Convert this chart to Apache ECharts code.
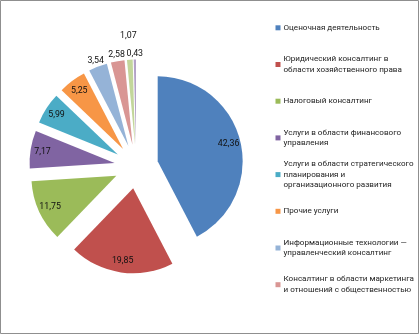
<!DOCTYPE html>
<html>
<head>
<meta charset="utf-8">
<script src="https://cdn.jsdelivr.net/npm/echarts@6/dist/echarts.min.js"></script>
<style>
  html, body { margin: 0; padding: 0; background: #fff; }
  #chart { width: 419px; height: 334px; }
</style>
</head>
<body>
<div id="chart"></div>
<script>
// Consulting market structure, % of revenue by service line
const categories = [
  'Оценочная деятельность',
  'Юридический консалтинг в области хозяйственного права',
  'Налоговый консалтинг',
  'Услуги в области финансового управления',
  'Услуги в области стратегического планирования и организационного развития',
  'Прочие услуги',
  'Информационные технологии — управленческий консалтинг',
  'Консалтинг в области маркетинга и отношений с общественностью',
  'Консалтинг в области управления персоналом',
  'Производственный консалтинг'
];
const shares = [42.36, 19.85, 11.75, 7.17, 5.99, 5.25, 3.54, 2.58, 1.07, 0.43];

// Legend captions with their line breaks
const legendText = [
  'Оценочная деятельность',
  'Юридический консалтинг в\nобласти хозяйственного права',
  'Налоговый консалтинг',
  'Услуги в области финансового\nуправления',
  'Услуги в области стратегического\nпланирования и\nорганизационного развития',
  'Прочие услуги',
  'Информационные технологии —\nуправленческий консалтинг',
  'Консалтинг в области маркетинга\nи отношений с общественностью'
];

const colors = ['#4F81BD', '#C0504D', '#9BBB59', '#8064A2', '#4BACC6', '#F79646',
                '#95B3D7', '#D99694', '#C3D69B', '#B3A2C7'];

const FONT = 'Roboto';
const LINE_H = 10.7;

// Mid-angle of every slice (clockwise from 12 o'clock), from the shares
const total = shares.reduce((a, b) => a + b, 0);
const midAngles = [];
let acc = 0;
shares.forEach(v => { midAngles.push((acc + v / 2) / total * 2 * Math.PI); acc += v; });

const RADIUS = 85;
// Radial push of value labels away from the default inner position
function labelPush(i) {
  const p = shares[i] / total * 100;
  if (p >= 4) return 27.5;           // inside, near the rim
  if (i === 8) return 63.5;          // lifted to clear its neighbours
  return 45.5;                       // just beyond the rim
}

// One legend block per entry so the marker sits on the first caption line
const legends = legendText.map((txt, i) => {
  const n = txt.split('\n').length;
  const firstLineY = 27.8 + i * 36.7;
  const blockH = (2 * n - 1) * LINE_H;
  return {
    data: [categories[i]],
    left: 275.5,
    top: firstLineY - blockH / 2,
    orient: 'vertical',
    padding: 0,
    itemWidth: 5,
    itemHeight: 5,
    icon: 'rect',
    selectedMode: false,
    formatter: () => txt,
    textStyle: {
      fontFamily: FONT,
      fontSize: 8.1,
      color: '#222',
      lineHeight: LINE_H,
      padding: [(n - 1) * LINE_H, 0, 0, -2]
    }
  };
});

const chart = echarts.init(document.getElementById('chart'));
chart.setOption({
  animation: false,
  color: colors,
  legend: legends,
  graphic: [{
    type: 'rect',
    shape: { x: 0.5, y: 0.5, width: 418, height: 333 },
    style: { fill: null, stroke: '#8f8f8f', lineWidth: 1 },
    silent: true
  }],
  series: [{
    type: 'pie',
    center: [136.3, 166.5],
    radius: [0, RADIUS],
    startAngle: 90,
    clockwise: true,
    selectedMode: 'multiple',
    selectedOffset: 22,
    avoidLabelOverlap: false,
    emphasis: { disabled: true },
    select: { itemStyle: { borderWidth: 0 } },
    itemStyle: { borderWidth: 0 },
    label: {
      show: true,
      position: 'inside',
      fontFamily: FONT,
      fontSize: 8.8,
      color: '#111',
      formatter: p => shares[p.dataIndex].toFixed(2).replace('.', ',')
    },
    labelLine: { show: false },
    labelLayout: params => {
      const i = params.dataIndex;
      const a = midAngles[i];
      const k = labelPush(i);
      return { dx: Math.sin(a) * k, dy: -Math.cos(a) * k };
    },
    data: shares.map((v, i) => ({ name: categories[i], value: v, selected: true }))
  }]
});
</script>
</body>
</html>
